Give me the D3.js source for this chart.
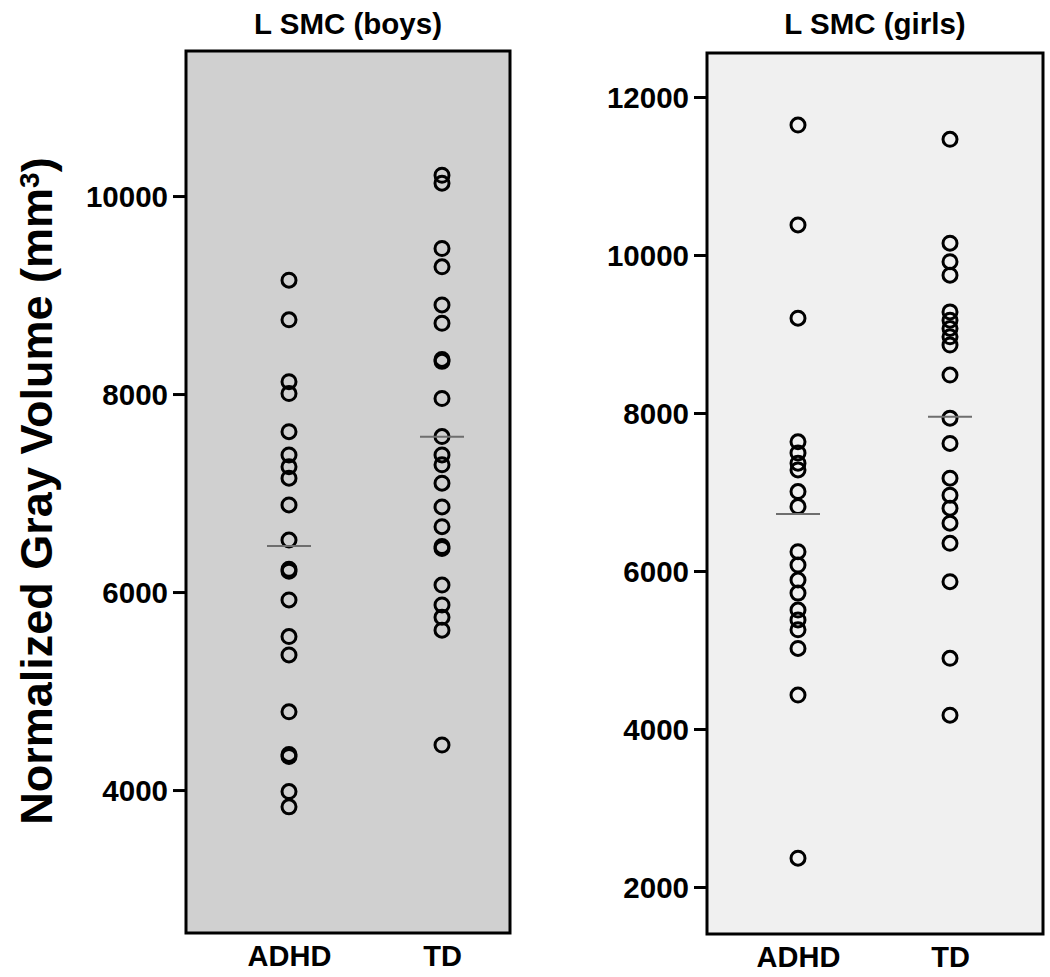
<!DOCTYPE html>
<html lang="en">
<head>
<meta charset="UTF-8">
<title>L SMC gray volume</title>
<script src="https://d3js.org/d3.v7.min.js"></script>
<style>
  body { margin: 0; background: #fff; }
  text { font-family: "Liberation Sans", Arial, sans-serif; font-weight: bold; fill: #000; }
  .dot { fill: none; stroke: #000; stroke-width: 3; }
  .mean { stroke: #6e6e6e; stroke-width: 2; }
</style>
</head>
<body>
<svg width="1050" height="977" id="svg1"></svg>
<script>
// categories
var groups = ["ADHD", "TD"];

// boys, left panel (mm^3)
var boysADHD = [9150, 8750, 8125, 8005, 7620, 7385, 7265, 7150, 6880, 6525,
    6230, 6210, 5920, 5550, 5365, 4790, 4360, 4340, 3985, 3830];
var boysTD = [10210, 10130, 9470, 9285, 8900, 8715, 8350, 8330, 7955, 7570,
    7385, 7285, 7100, 6860, 6660, 6460, 6440, 6070, 5870, 5745, 5615, 4455];
var boysMeans = [6465, 7569];
var boysTicks = [4000, 6000, 8000, 10000];

// girls, right panel (mm^3)
var girlsADHD = [11645, 10380, 9200, 7635, 7495, 7365, 7280, 7005, 6815, 6245,
    6075, 5885, 5720, 5505, 5380, 5255, 5020, 4430, 2365];
var girlsTD = [11465, 10150, 9915, 9745, 9280, 9175, 9070, 8965, 8860, 8480,
    7935, 7615, 7175, 6960, 6795, 6605, 6350, 5865, 4895, 4175];
var girlsMeans = [6722, 7954];
var girlsTicks = [2000, 4000, 6000, 8000, 10000, 12000];

var svg = d3.select("#svg1");

function panel(opts) {
    var w = opts.x1 - opts.x0, h = opts.y1 - opts.y0;
    var g = svg.append("g").attr("transform", "translate(" + opts.x0 + "," + opts.y0 + ")");

    var x = d3.scalePoint().domain(groups).range(opts.xr);
    var y = d3.scaleLinear().domain(opts.domain).range([h, 0]);

    g.append("rect")
        .attr("width", w)
        .attr("height", h)
        .attr("fill", opts.bg);

    // points
    [opts.a, opts.b].forEach(function (vals, i) {
        g.selectAll(".dot" + i)
            .data(vals)
            .enter().append("circle")
            .attr("class", "dot")
            .attr("cx", x(groups[i]))
            .attr("cy", function (d) { return y(d); })
            .attr("r", 7);
    });

    // mean markers
    g.selectAll(".mean")
        .data(opts.means)
        .enter().append("line")
        .attr("class", "mean")
        .attr("x1", function (d, i) { return x(groups[i]) - 22; })
        .attr("x2", function (d, i) { return x(groups[i]) + 22; })
        .attr("y1", function (d) { return y(d); })
        .attr("y2", function (d) { return y(d); });

    g.append("rect")
        .attr("width", w)
        .attr("height", h)
        .attr("fill", "none")
        .attr("stroke", "#000")
        .attr("stroke-width", 3);

    var ya = g.append("g")
        .call(d3.axisLeft(y).tickValues(opts.ticks).tickSize(13).tickPadding(5)
            .tickFormat(d3.format("d")));
    ya.select(".domain").remove();
    ya.selectAll(".tick line").attr("stroke", "#000").attr("stroke-width", 3);
    ya.selectAll(".tick text").attr("font-size", "29.5px").attr("font-family", null).attr("dy", "0.36em");

    var xa = g.append("g")
        .attr("transform", "translate(0," + h + ")")
        .call(d3.axisBottom(x).tickSize(0).tickPadding(12));
    xa.select(".domain").remove();
    xa.selectAll(".tick text").attr("font-size", "29px").attr("font-family", null).attr("dy", "0.71em");

    svg.append("text")
        .attr("x", opts.x0 + w / 2)
        .attr("y", 34)
        .attr("text-anchor", "middle")
        .attr("font-size", "29.5px")
        .text(opts.title);
}

panel({
    x0: 186, x1: 510, y0: 51, y1: 933,
    xr: [103, 256], domain: [2556, 11465],
    a: boysADHD, b: boysTD, means: boysMeans, ticks: boysTicks,
    bg: "#d0d0d0", title: "L SMC (boys)"
});

panel({
    x0: 707, x1: 1043, y0: 53, y1: 934,
    xr: [91, 243], domain: [1405, 12557],
    a: girlsADHD, b: girlsTD, means: girlsMeans, ticks: girlsTicks,
    bg: "#f0f0f0", title: "L SMC (girls)"
});

// y axis title
var yt = svg.append("text")
    .attr("transform", "translate(52,491) rotate(-90)")
    .attr("text-anchor", "middle")
    .attr("font-size", "45px");
yt.append("tspan").text("Normalized Gray Volume (mm");
yt.append("tspan").attr("dy", "-0.45em").attr("font-size", "28px").text("3");
yt.append("tspan").attr("dy", "0.3em").text(")");
</script>
</body>
</html>
